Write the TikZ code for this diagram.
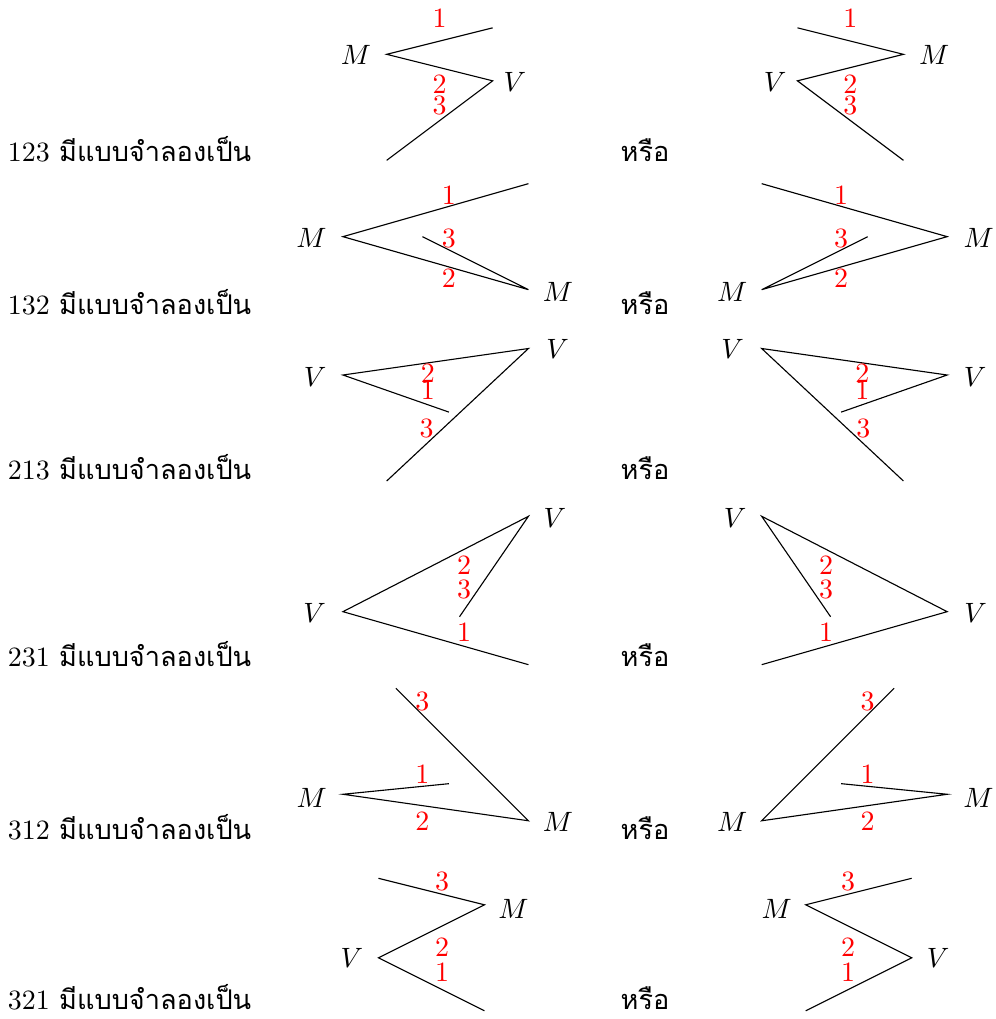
\documentclass[tikz,border=0pt]{standalone}
\usepackage{fontspec}
\usepackage{tikz}
\newfontfamily\thaifont[Script=Thai,Scale=0.97]{Loma}

\begin{document}
\begin{tikzpicture}[
    x=0.3333cm,
    y=0.3333cm,
    rank/.style={
        text=red,
        inner sep=0pt
    },
    pole/.style={
        inner sep=0pt
    },
    caption/.style={
        anchor=base west,
        inner sep=0pt
    }
]
\useasboundingbox (0,0) rectangle (37.55,-38.45);

% Row texts
\node[caption] (t123) at (0.28,-6.10) {123 {\thaifont มีแบบจำลองเป็น}};
\node[caption] (o123) at (23.40,-6.10) {\thaifont หรือ};
\node[caption] (t132) at (0.28,-11.86) {132 {\thaifont มีแบบจำลองเป็น}};
\node[caption] (o132) at (23.40,-11.86) {\thaifont หรือ};
\node[caption] (t213) at (0.28,-18.11) {213 {\thaifont มีแบบจำลองเป็น}};
\node[caption] (o213) at (23.40,-18.11) {\thaifont หรือ};
\node[caption] (t231) at (0.28,-25.13) {231 {\thaifont มีแบบจำลองเป็น}};
\node[caption] (o231) at (23.40,-25.13) {\thaifont หรือ};
\node[caption] (t312) at (0.28,-31.66) {312 {\thaifont มีแบบจำลองเป็น}};
\node[caption] (o312) at (23.40,-31.66) {\thaifont หรือ};
\node[caption] (t321) at (0.28,-38.08) {321 {\thaifont มีแบบจำลองเป็น}};
\node[caption] (o321) at (23.40,-38.08) {\thaifont หรือ};

% 123
\begin{scope}[shift={(14.59,-2.05)}]
\coordinate (la1) at (4,1);
\coordinate (lb1) at (0,0);
\coordinate (lc1) at (4,-1);
\coordinate (ld1) at (0,-4);
\draw (la1) -- (lb1) -- (lc1) -- (ld1);
\node[rank] (lr11) at (2,1.36) {1};
\node[rank] (lr12) at (2,-1.14) {2};
\node[rank] (lr13) at (2,-1.94) {3};
\node[pole] (lp11) at (-1.16,-0.03) {$M$};
\node[pole] (lp12) at (4.84,-1.03) {$V$};
\end{scope}
\begin{scope}[shift={(34.09,-2.05)}, xscale=-1]
\coordinate (ra1) at (4,1);
\coordinate (rb1) at (0,0);
\coordinate (rc1) at (4,-1);
\coordinate (rd1) at (0,-4);
\draw (ra1) -- (rb1) -- (rc1) -- (rd1);
\node[rank] (rr11) at (2,1.36) {1};
\node[rank] (rr12) at (2,-1.14) {2};
\node[rank] (rr13) at (2,-1.94) {3};
\node[pole] (rp11) at (-1.16,-0.03) {$M$};
\node[pole] (rp12) at (4.84,-1.03) {$V$};
\end{scope}

% 132
\begin{scope}[shift={(12.94,-8.93)}]
\coordinate (la2) at (7,2);
\coordinate (lb2) at (0,0);
\coordinate (lc2) at (7,-2);
\coordinate (ld2) at (3,0);
\draw (la2) -- (lb2) -- (lc2) -- (ld2);
\node[rank] (lr21) at (4,1.57) {1};
\node[rank] (lr22) at (4,-1.57) {2};
\node[rank] (lr23) at (4,-0.06) {3};
\node[pole] (lp21) at (-1.19,-0.06) {$M$};
\node[pole] (lp22) at (8.11,-2.08) {$M$};
\end{scope}
\begin{scope}[shift={(35.74,-8.93)}, xscale=-1]
\coordinate (ra2) at (7,2);
\coordinate (rb2) at (0,0);
\coordinate (rc2) at (7,-2);
\coordinate (rd2) at (3,0);
\draw (ra2) -- (rb2) -- (rc2) -- (rd2);
\node[rank] (rr21) at (4,1.57) {1};
\node[rank] (rr22) at (4,-1.57) {2};
\node[rank] (rr23) at (4,-0.06) {3};
\node[pole] (rp21) at (-1.19,-0.06) {$M$};
\node[pole] (rp22) at (8.11,-2.08) {$M$};
\end{scope}

% 213
\begin{scope}[shift={(12.94,-14.15)}]
\coordinate (la3) at (4,-1.4);
\coordinate (lb3) at (0,0);
\coordinate (lc3) at (7,1);
\coordinate (ld3) at (1.65,-4);
\draw (la3) -- (lb3) -- (lc3) -- (ld3);
\node[rank] (lr31) at (3.2,-0.57) {1};
\node[rank] (lr32) at (3.2,0.06) {2};
\node[rank] (lr33) at (3.16,-2.01) {3};
\node[pole] (lp31) at (-1.05,-0.06) {$V$};
\node[pole] (lp32) at (8.1,0.98) {$V$};
\end{scope}
\begin{scope}[shift={(35.74,-14.15)}, xscale=-1]
\coordinate (ra3) at (4,-1.4);
\coordinate (rb3) at (0,0);
\coordinate (rc3) at (7,1);
\coordinate (rd3) at (1.65,-4);
\draw (ra3) -- (rb3) -- (rc3) -- (rd3);
\node[rank] (rr31) at (3.2,-0.57) {1};
\node[rank] (rr32) at (3.2,0.06) {2};
\node[rank] (rr33) at (3.16,-2.01) {3};
\node[pole] (rp31) at (-1.05,-0.06) {$V$};
\node[pole] (rp32) at (8.1,0.98) {$V$};
\end{scope}

% 231
\begin{scope}[shift={(12.94,-23.08)}]
\coordinate (la4) at (7,-2);
\coordinate (lb4) at (0,0);
\coordinate (lc4) at (7,3.6);
\coordinate (ld4) at (4.4,-0.19);
\draw (la4) -- (lb4) -- (lc4) -- (ld4);
\node[rank] (lr41) at (4.57,-0.79) {1};
\node[rank] (lr42) at (4.57,1.76) {2};
\node[rank] (lr43) at (4.57,0.82) {3};
\node[pole] (lp41) at (-1.07,-0.04) {$V$};
\node[pole] (lp42) at (8.0,3.52) {$V$};
\end{scope}
\begin{scope}[shift={(35.74,-23.08)}, xscale=-1]
\coordinate (ra4) at (7,-2);
\coordinate (rb4) at (0,0);
\coordinate (rc4) at (7,3.6);
\coordinate (rd4) at (4.4,-0.19);
\draw (ra4) -- (rb4) -- (rc4) -- (rd4);
\node[rank] (rr41) at (4.57,-0.79) {1};
\node[rank] (rr42) at (4.57,1.76) {2};
\node[rank] (rr43) at (4.57,0.82) {3};
\node[pole] (rp41) at (-1.07,-0.04) {$V$};
\node[pole] (rp42) at (8.0,3.52) {$V$};
\end{scope}

% 312
\begin{scope}[shift={(12.94,-29.97)}]
\coordinate (la5) at (4,0.4);
\coordinate (lb5) at (0,0);
\coordinate (lc5) at (7,-1);
\coordinate (ld5) at (2,4);
\draw (la5) -- (lb5) -- (lc5) -- (ld5);
\node[rank] (lr51) at (3,0.75) {1};
\node[rank] (lr52) at (3,-1.03) {2};
\node[rank] (lr53) at (3,3.49) {3};
\node[pole] (lp51) at (-1.18,-0.13) {$M$};
\node[pole] (lp52) at (8.11,-1.03) {$M$};
\end{scope}
\begin{scope}[shift={(35.74,-29.97)}, xscale=-1]
\coordinate (ra5) at (4,0.4);
\coordinate (rb5) at (0,0);
\coordinate (rc5) at (7,-1);
\coordinate (rd5) at (2,4);
\draw (ra5) -- (rb5) -- (rc5) -- (rd5);
\node[rank] (rr51) at (3,0.75) {1};
\node[rank] (rr52) at (3,-1.03) {2};
\node[rank] (rr53) at (3,3.49) {3};
\node[pole] (rp51) at (-1.18,-0.13) {$M$};
\node[pole] (rp52) at (8.11,-1.03) {$M$};
\end{scope}

% 321
\begin{scope}[shift={(14.28,-36.14)}]
\coordinate (la6) at (0,3);
\coordinate (lb6) at (4,2);
\coordinate (lc6) at (0,0);
\coordinate (ld6) at (4,-2);
\draw (la6) -- (lb6) -- (lc6) -- (ld6);
\node[rank] (lr61) at (2.4,-0.53) {1};
\node[rank] (lr62) at (2.4,0.39) {2};
\node[rank] (lr63) at (2.4,2.87) {3};
\node[pole] (lp61) at (5.09,1.86) {$M$};
\node[pole] (lp62) at (-1.0,-0.02) {$V$};
\end{scope}
\begin{scope}[shift={(34.40,-36.14)}, xscale=-1]
\coordinate (ra6) at (0,3);
\coordinate (rb6) at (4,2);
\coordinate (rc6) at (0,0);
\coordinate (rd6) at (4,-2);
\draw (ra6) -- (rb6) -- (rc6) -- (rd6);
\node[rank] (rr61) at (2.4,-0.53) {1};
\node[rank] (rr62) at (2.4,0.39) {2};
\node[rank] (rr63) at (2.4,2.87) {3};
\node[pole] (rp61) at (5.09,1.86) {$M$};
\node[pole] (rp62) at (-1.0,-0.02) {$V$};
\end{scope}

\end{tikzpicture}
\end{document}
